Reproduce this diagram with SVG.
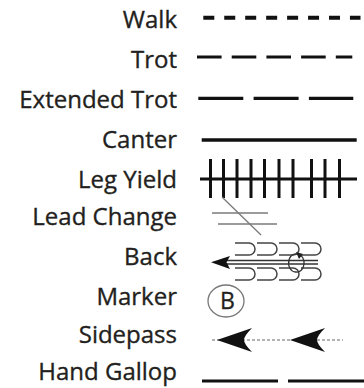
<svg xmlns="http://www.w3.org/2000/svg" width="364" height="388" viewBox="0 0 364 388">
<defs>
<style>
.lbl{font-family:"Open Sans","Noto Sans","Liberation Sans",sans-serif;font-size:24px;fill:#231f20;stroke:#231f20;stroke-width:0.35;text-anchor:end}
.blk{stroke:#111;fill:none;stroke-linecap:butt}
.gry{stroke:#7a7a7a;fill:none;stroke-width:1.3}
.cup{stroke:#444;fill:none;stroke-width:1.5}
</style>
<path id="cup" d="M0,0 H14 A6,6 0 0 1 14,12 H0"/>
<path id="sphead" d="M0,0 L35,-12 Q27,-4 27,0 Q27,4 35,12 Z"/>
</defs>
<rect width="364" height="388" fill="#fff"/>
<g id="walk">
<text class="lbl" x="177" y="28">Walk</text>
<line class="blk" x1="203.3" y1="17.7" x2="360.5" y2="17.7" stroke-width="4" stroke-dasharray="11 9.95"/>
</g>
<g id="trot">
<text class="lbl" x="177" y="68">Trot</text>
<line class="blk" x1="197" y1="57" x2="352.3" y2="57" stroke-width="3.2" stroke-dasharray="24.6 10.1"/>
</g>
<g id="extended-trot">
<text class="lbl" x="177" y="108">Extended Trot</text>
<line class="blk" x1="198.3" y1="98.3" x2="353.3" y2="98.3" stroke-width="3.3" stroke-dasharray="45 10.3"/>
</g>
<g id="canter">
<text class="lbl" x="177" y="148">Canter</text>
<line class="blk" x1="201.7" y1="140" x2="356.7" y2="140" stroke-width="3.3"/>
</g>
<g id="leg-yield">
<text class="lbl" x="177" y="188">Leg Yield</text>
<g class="blk" stroke-width="3">
<line x1="200" y1="179" x2="357" y2="179"/>
<line x1="210.5" y1="159" x2="210.5" y2="198"/>
<line x1="223.5" y1="159" x2="223.5" y2="198"/>
<line x1="237" y1="159" x2="237" y2="198"/>
<line x1="251" y1="159" x2="251" y2="198"/>
<line x1="264.5" y1="159" x2="264.5" y2="198"/>
<line x1="279" y1="159" x2="279" y2="198"/>
<line x1="293" y1="159" x2="293" y2="198"/>
<line x1="311.5" y1="159" x2="311.5" y2="198"/>
<line x1="325" y1="159" x2="325" y2="198"/>
<line x1="339.5" y1="159" x2="339.5" y2="198"/>
</g>
</g>
<g id="lead-change">
<text class="lbl" x="177" y="225">Lead Change</text>
<g class="gry">
<line x1="212" y1="213" x2="268" y2="213"/>
<line x1="218" y1="224" x2="277" y2="224"/>
<line x1="222" y1="197" x2="261" y2="235"/>
</g>
</g>
<g id="back">
<text class="lbl" x="177" y="265">Back</text>
<g class="cup">
<use href="#cup" x="235" y="243"/>
<use href="#cup" x="257" y="243"/>
<use href="#cup" x="279" y="243"/>
<use href="#cup" x="301" y="243"/>
<use href="#cup" x="235" y="268"/>
<use href="#cup" x="257" y="268"/>
<use href="#cup" x="279" y="268"/>
<use href="#cup" x="301" y="268"/>
</g>
<g stroke="#333" stroke-width="1.3" fill="none">
<line x1="222" y1="260.5" x2="318" y2="260.5"/>
<line x1="222" y1="264" x2="318" y2="264"/>
<path d="M300,256 A7,9 0 1 0 296,272 A7,9 0 0 0 298,254"/>
</g>
<path d="M296,252 L303,254 L299,259 Z" fill="#222"/>
<path d="M211,262.3 L230,256 L226.5,262.3 L230,269 Z" fill="#111"/>
</g>
<g id="marker">
<text class="lbl" x="177" y="305">Marker</text>
<ellipse cx="226" cy="301" rx="18" ry="16" fill="none" stroke="#777" stroke-width="1.3"/>
<text x="227.5" y="309" font-family="'Open Sans','Noto Sans',sans-serif" font-size="23" fill="#231f20" stroke="#231f20" stroke-width="0.3" text-anchor="middle">B</text>
</g>
<g id="sidepass">
<text class="lbl" x="177" y="343">Sidepass</text>
<line x1="212" y1="340" x2="343" y2="340" stroke="#666" stroke-width="1" stroke-dasharray="3 2"/>
<use href="#sphead" x="217" y="340" fill="#111"/>
<use href="#sphead" x="290" y="340" fill="#111"/>
</g>
<g id="hand-gallop">
<text class="lbl" x="177" y="380">Hand Gallop</text>
<line class="blk" x1="202" y1="381" x2="278" y2="381" stroke-width="3.2"/>
<line class="blk" x1="288" y1="381" x2="364" y2="381" stroke-width="3.2"/>
</g>
</svg>
